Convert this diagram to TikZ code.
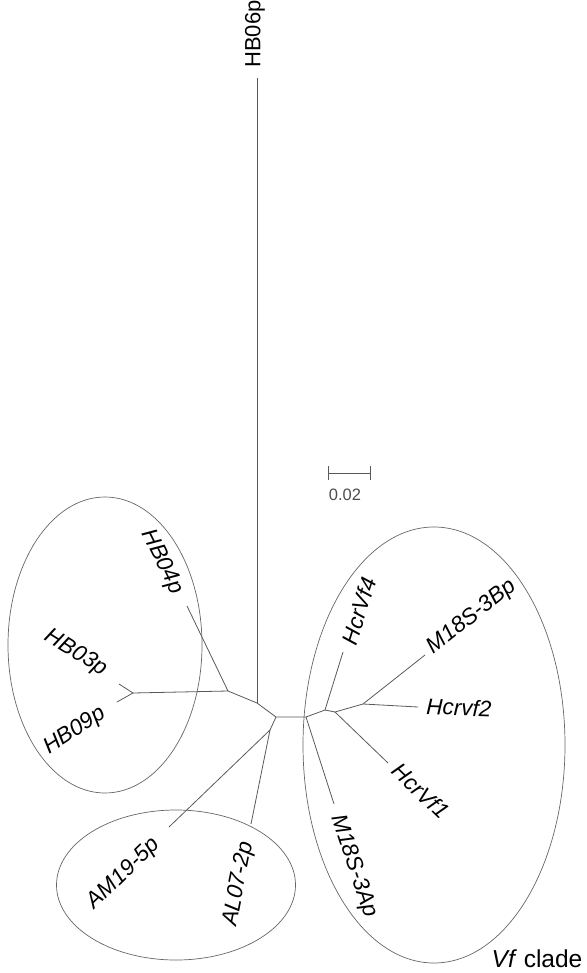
\documentclass[tikz,border=0pt]{standalone}
\usepackage{fontspec}
\setmainfont{Liberation Sans}
\begin{document}
\begin{tikzpicture}[x=1pt,y=-1pt,
  br/.style={draw=black!65, line width=0.8pt},
  ell/.style={draw=black!60, line width=0.7pt},
  lab/.style={font=\fontsize{22.5}{22.5}\selectfont\itshape, inner sep=0pt},
  labup/.style={font=\fontsize{22}{22}\selectfont, inner sep=0pt}]
\useasboundingbox (0,0) rectangle (586,973);
% internal nodes
\coordinate (A) at (257,703);
\coordinate (B) at (276,717);
\coordinate (C) at (306,717);
\coordinate (D) at (228,691);
\coordinate (E) at (133,693);
\coordinate (F) at (270,730);
\coordinate (G) at (325,710);
\coordinate (H) at (335,712);
\coordinate (I) at (363,704);
% tips
\coordinate (tHB06) at (257,78);
\coordinate (tHB04) at (187,606);
\coordinate (tHB03) at (119,684);
\coordinate (tHB09) at (117,702);
\coordinate (tAM19) at (169,827);
\coordinate (tAL07) at (251,824);
\coordinate (tVf4) at (343,652);
\coordinate (tB3) at (425,655);
\coordinate (tVf2) at (418,707);
\coordinate (tVf1) at (388,763);
\coordinate (tA3) at (334,804);
% branches
\draw[br] (tHB06) -- (A);
\draw[br] (D) -- (A) -- (B) -- (C);
\draw[br] (tHB04) -- (D) -- (E);
\draw[br] (tHB03) -- (E) -- (tHB09);
\draw[br] (B) -- (F) -- (tAM19);
\draw[br] (F) -- (tAL07);
\draw[br] (C) -- (G) -- (tVf4);
\draw[br] (G) -- (H) -- (I) -- (tB3);
\draw[br] (I) -- (tVf2);
\draw[br] (H) -- (tVf1);
\draw[br] (C) -- (tA3);
% ellipses
\draw[ell] (105,645) ellipse [x radius=97, y radius=148];
\draw[ell] (176,885) ellipse [x radius=119.5, y radius=75];
\draw[ell] (434,745) ellipse [x radius=131, y radius=218];
% labels
\node[labup, rotate=90] (lHB06) at (255,34) {HB06p};
\node[lab, rotate=-64] (lHB04) at (162,562) {HB04p};
\node[lab, rotate=-32] (lHB03) at (76,653) {HB03p};
\node[lab, rotate=33] (lHB09) at (75,731) {HB09p};
\node[lab, rotate=44] (lAM19) at (124,874) {AM19-5p};
\node[lab, rotate=79] (lAL07) at (239,884) {AL07-2p};
\node[lab, rotate=72.6] (lVf4) at (359,611) {HcrVf4};
\node[lab, rotate=38.5] (lB3) at (472,617) {M18S-3Bp};
\node[lab, rotate=-2] (lVf2) at (459,707.5) {Hcrvf2};
\node[lab, rotate=-44] (lVf1) at (421,791) {HcrVf1};
\node[lab, rotate=-71.6] (lA3) at (354,866) {M18S-3Ap};
\node[font=\fontsize{24.5}{24.5}\selectfont, inner sep=0pt] (lclade) at (537,959) {\textit{Vf} clade};
% scale bar
\coordinate (s1) at (328,473);
\coordinate (s2) at (370,473);
\draw[br] (s1) -- (s2);
\draw[br] ([yshift=-7]s1) -- ([yshift=7]s1);
\draw[br] ([yshift=-7]s2) -- ([yshift=7]s2);
\node[font=\fontsize{16.5}{16.5}\selectfont, text=black!70, inner sep=0pt] (lscale) at (345,495) {0.02};
\end{tikzpicture}
\end{document}
